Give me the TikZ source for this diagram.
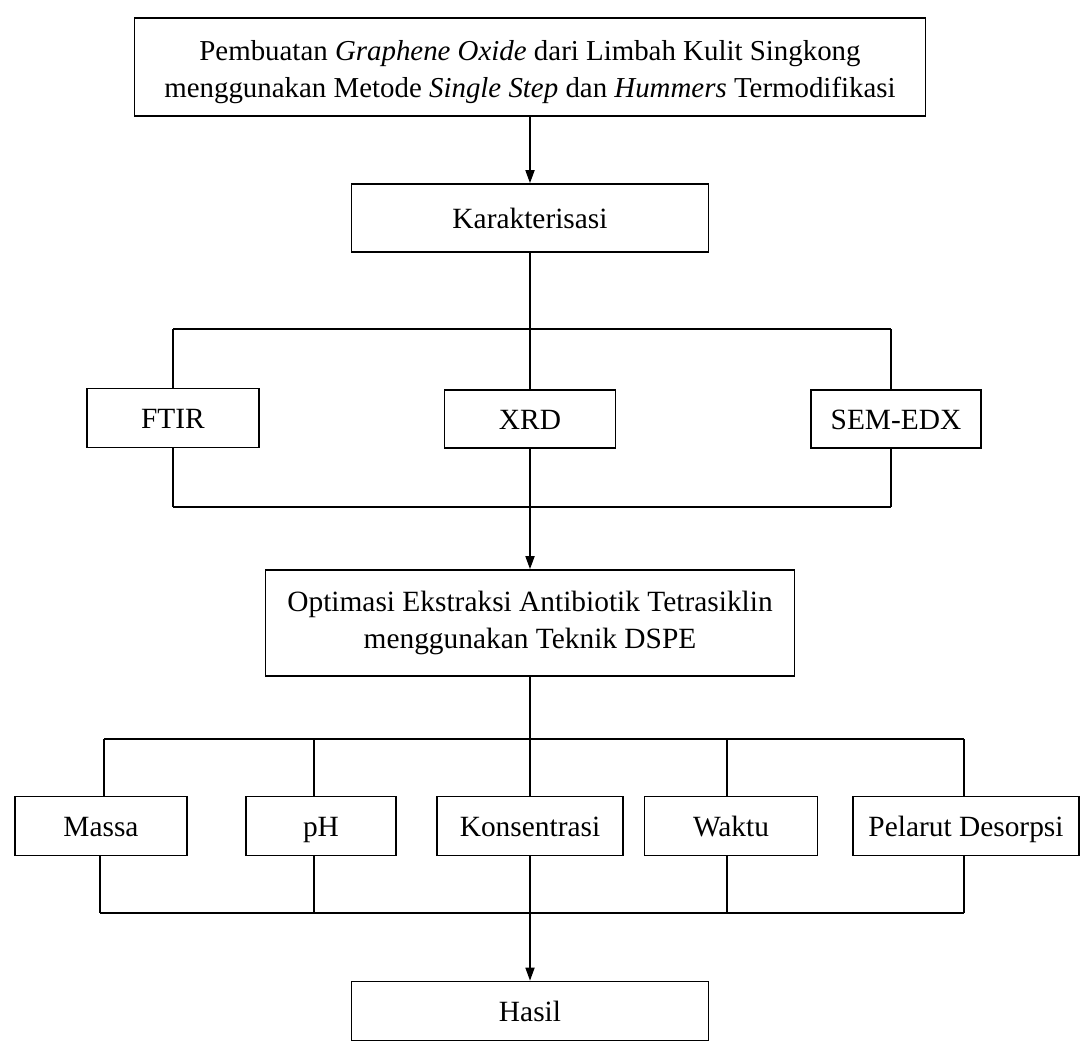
\documentclass[tikz,border=0pt]{standalone}
\usepackage{fontspec}
\setmainfont{Liberation Serif}
\usetikzlibrary{arrows.meta}
\begin{document}
\begin{tikzpicture}[x=1bp,y=-1bp,
  box/.style={draw,line width=1.7bp,inner sep=0pt,align=center,font=\fontsize{29.5}{38}\selectfont},
  one/.style={box,text height=21bp,text depth=0bp},
  ln/.style={line width=1.7bp},
  arr/.style={line width=1.7bp,-{Triangle[length=13bp,width=9bp]}}]
\fill[white] (0,0) rectangle (1084,1052);
\useasboundingbox (0,0) rectangle (1084,1052);
% boxes
\node[box,font=\fontsize{29}{37.5}\selectfont,minimum width=791bp,minimum height=98bp] (top) at (530,67)
  {\rule{0pt}{30bp}Pembuatan \textit{Graphene Oxide} dari Limbah Kulit Singkong\\menggunakan Metode \textit{Single Step} dan \textit{Hummers} Termodifikasi};
\node[one,minimum width=357bp,minimum height=68bp] (kar) at (530,218) {Karakterisasi};
\node[one,minimum width=172bp,minimum height=59bp] (ftir) at (173,418) {FTIR};
\node[one,minimum width=171bp,minimum height=58bp] (xrd) at (530,419) {XRD};
\node[one,minimum width=170bp,minimum height=58bp] (sem) at (896,419) {SEM-EDX};
\node[box,minimum width=529bp,minimum height=106bp] (opt) at (530,623)
  {Optimasi Ekstraksi Antibiotik Tetrasiklin\\menggunakan Teknik DSPE};
\node[one,minimum width=172bp,minimum height=59bp] (massa) at (101,826) {Massa};
\node[one,minimum width=150bp,minimum height=59bp] (ph) at (321,826) {pH};
\node[one,minimum width=186bp,minimum height=59bp] (kons) at (530,826) {Konsentrasi};
\node[one,minimum width=173bp,minimum height=59bp] (waktu) at (731,826) {Waktu};
\node[one,minimum width=226bp,minimum height=59bp] (pel) at (966,826) {Pelarut Desorpsi};
\node[one,minimum width=357bp,minimum height=59bp] (hasil) at (530,1011) {Hasil};
% junction coordinates
\coordinate (a1) at (530,329);
\coordinate (aL) at (173,329);
\coordinate (aR) at (891,329);
\coordinate (b1) at (530,507);
\coordinate (bL) at (173,507);
\coordinate (bR) at (891,507);
\coordinate (c1) at (530,739);
\coordinate (cM) at (104,739);
\coordinate (cP) at (314,739);
\coordinate (cW) at (727,739);
\coordinate (cD) at (964,739);
\coordinate (d1) at (530,913);
\coordinate (dM) at (100,913);
\coordinate (dP) at (314,913);
\coordinate (dW) at (727,913);
\coordinate (dD) at (964,913);
% connectors
\draw[arr] (top) -- (kar);
\draw[ln] (kar) -- (a1);
\draw[ln] (aL) -- (aR);
\draw[ln] (aL) -- (ftir);
\draw[ln] (a1) -- (xrd);
\draw[ln] (aR) -- (aR |- sem.north);
\draw[ln] (ftir) -- (bL);
\draw[ln] (xrd) -- (b1);
\draw[ln] (bR |- sem.south) -- (bR);
\draw[ln] (bL) -- (bR);
\draw[arr] (b1) -- (opt);
\draw[ln] (opt) -- (c1);
\draw[ln] (cM) -- (cD);
\draw[ln] (cM) -- (cM |- massa.north);
\draw[ln] (cP) -- (cP |- ph.north);
\draw[ln] (c1) -- (kons);
\draw[ln] (cW) -- (cW |- waktu.north);
\draw[ln] (cD) -- (cD |- pel.north);
\draw[ln] (dM |- massa.south) -- (dM);
\draw[ln] (dP |- ph.south) -- (dP);
\draw[ln] (kons) -- (d1);
\draw[ln] (dW |- waktu.south) -- (dW);
\draw[ln] (dD |- pel.south) -- (dD);
\draw[ln] (dM) -- (dD);
\draw[arr] (d1) -- (hasil);
\end{tikzpicture}
\end{document}
